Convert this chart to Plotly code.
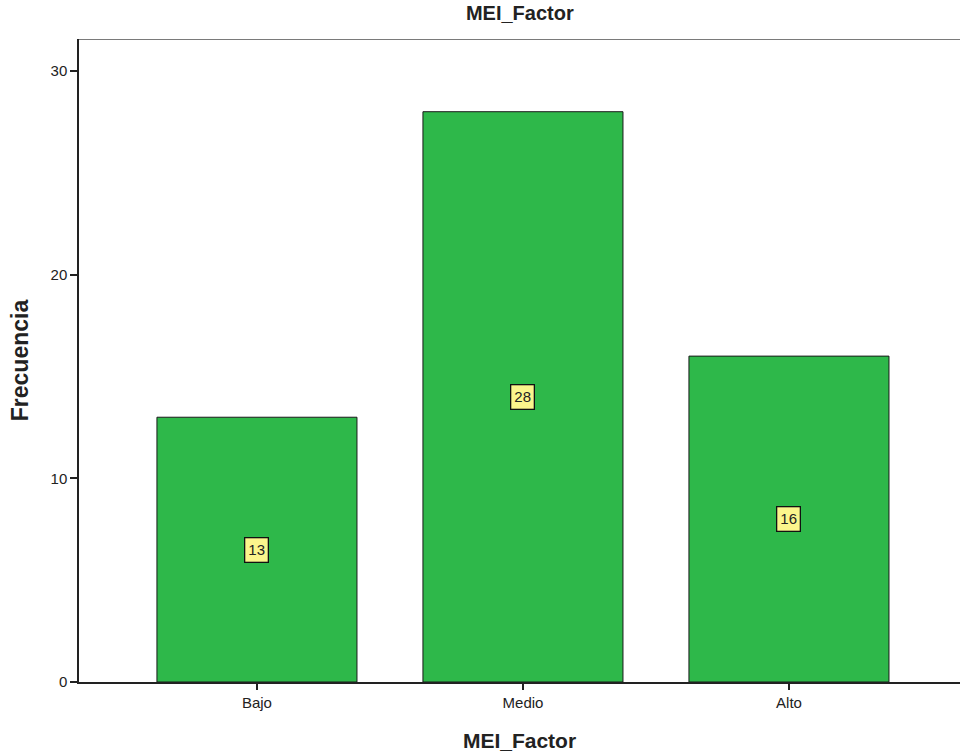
import plotly.graph_objects as go

categories = ["Bajo", "Medio", "Alto"]
frequencies = [13, 28, 16]
y_ticks = [0, 10, 20, 30]

y_top = 31.57

fig = go.Figure()
fig.add_trace(go.Bar(
    x=categories, y=frequencies,
    marker=dict(color="#2eb84a", line=dict(color="#1a1a1a", width=1)),
    width=0.752, hoverinfo="skip",
))

for c, v in zip(categories, frequencies):
    fig.add_annotation(
        x=c, y=v / 2, text=str(v), showarrow=False,
        font=dict(family="Liberation Sans, Arial", size=15, color="#222222"),
        bgcolor="#fbf58c", bordercolor="#111111", borderwidth=1.3, borderpad=3,
    )

fig.add_shape(type="line", xref="paper", yref="y", x0=0, x1=1, y0=y_top, y1=y_top,
              line=dict(color="#7a7a7a", width=2))

fig.update_layout(
    width=960, height=754,
    margin=dict(l=79, r=0, t=39, b=72),
    paper_bgcolor="white", plot_bgcolor="white",
    showlegend=False,
    font=dict(family="Liberation Sans, Arial", size=15, color="#222222"),
    title=dict(text="<b>MEI_Factor</b>", x=0.5415, xanchor="center", y=0.983, yanchor="middle",
               font=dict(size=20, color="#222222")),
    xaxis=dict(
        range=[-0.669, 2.643], showgrid=False, zeroline=False,
        showline=True, linecolor="#222222", linewidth=1.5,
        ticks="outside", ticklen=6, tickcolor="#222222", tickwidth=1.5,
        tickfont=dict(size=15),
        title=dict(text="<b>MEI_Factor</b>", font=dict(size=21), standoff=24),
    ),
    yaxis=dict(
        range=[0, y_top], showgrid=False, zeroline=False,
        showline=True, linecolor="#222222", linewidth=1.5,
        ticks="outside", ticklen=7, tickcolor="#222222", tickwidth=1.5,
        tickvals=y_ticks, tickfont=dict(size=15),
        title=dict(text="<b>Frecuencia</b>", font=dict(size=23), standoff=16),
    ),
)

fig.write_html("out.html", config={"displayModeBar": False},
               post_script="document.body.style.margin='0';document.body.style.overflow='hidden';")
